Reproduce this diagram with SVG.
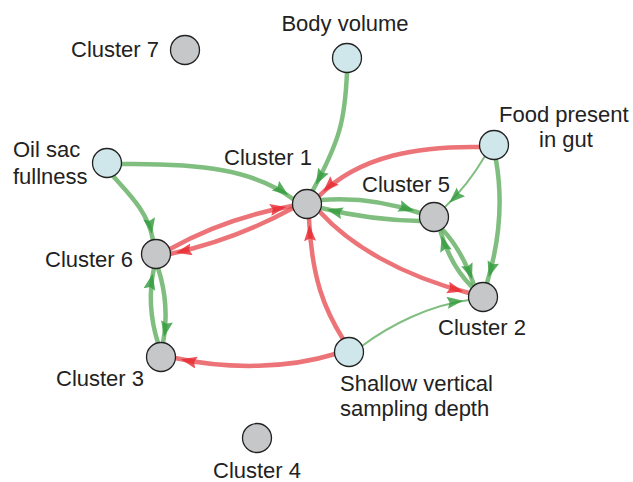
<svg xmlns="http://www.w3.org/2000/svg" width="633" height="482" viewBox="0 0 633 482">
<style>
text{font-family:"Liberation Sans",Arial,sans-serif;font-size:22px;fill:#222}
.g{fill:none;stroke:#55a855;stroke-opacity:0.75;stroke-width:4.5;stroke-linecap:round}
.gt{fill:none;stroke:#55a855;stroke-opacity:0.75;stroke-width:2;stroke-linecap:round}
.r{fill:none;stroke:#e5454b;stroke-opacity:0.75;stroke-width:4.5;stroke-linecap:round}
.g,.gt{marker-end:url(#ag)}
.r{marker-end:url(#ar)}
.c{fill:#c6c7c9;stroke:#222;stroke-width:1.3}
.v{fill:#cfe6ea;stroke:#222;stroke-width:1.3}
</style>
<defs>
<marker id="ag" markerUnits="userSpaceOnUse" markerWidth="17" markerHeight="13" refX="22" refY="6" orient="auto">
<path d="M0,0 L16,6 L0,12 L2.5,6 z" fill="#2f9a3a" fill-opacity="0.8"/>
</marker>
<marker id="ar" markerUnits="userSpaceOnUse" markerWidth="17" markerHeight="13" refX="22" refY="6" orient="auto">
<path d="M0,0 L16,6 L0,12 L2.5,6 z" fill="#e8262d" fill-opacity="0.8"/>
</marker>
</defs>
<g id="edges">
<path class="g" d="M347,72 C345,120 340,140 313,190"/>
<path class="g" d="M121,164 C200,163 255,170 293,199"/>
<path class="g" d="M113,176 C130,195 148,212 153,240"/>
<path class="r" d="M293,208 Q235,240 170,254"/>
<path class="r" d="M170,249 Q225,218 292,206"/>
<path class="g" d="M158,343 Q146,305 154,268"/>
<path class="g" d="M158,268 Q170,305 163,343"/>
<path class="r" d="M335,354 C290,368 230,370 175,358"/>
<path class="r" d="M343,339 C325,310 312,280 309,219"/>
<path class="gt" d="M362,346 C390,325 430,305 469,300"/>
<path class="r" d="M320,212 C350,245 400,275 469,293"/>
<path class="r" d="M480,147 C420,146 360,155 319,196"/>
<path class="gt" d="M485,156 Q468,185 445,207"/>
<path class="g" d="M496,160 C503,200 500,240 487,283"/>
<path class="g" d="M442,229 Q462,250 474,285"/>
<path class="g" d="M472,287 Q450,265 440,230"/>
<path class="g" d="M321,200 Q370,196 420,213"/>
<path class="g" d="M420,221 Q370,220 321,208"/>
</g>
<g id="cluster7"><circle class="c" cx="185" cy="50" r="14.5"/><text x="71" y="57">Cluster 7</text></g>
<g id="bodyvolume"><circle class="v" cx="347" cy="58" r="14.5"/><text x="345" y="31" text-anchor="middle">Body volume</text></g>
<g id="food"><circle class="v" cx="494" cy="145" r="14.5"/><text x="499" y="122">Food present</text><text x="539" y="147">in gut</text></g>
<g id="oilsac"><circle class="v" cx="107" cy="163" r="14.5"/><text x="13" y="157">Oil sac</text><text x="13" y="184">fullness</text></g>
<g id="cluster1"><circle class="c" cx="307" cy="204" r="14.5"/><text x="224" y="165">Cluster 1</text></g>
<g id="cluster5"><circle class="c" cx="434" cy="217" r="14.5"/><text x="362" y="192">Cluster 5</text></g>
<g id="cluster6"><circle class="c" cx="156" cy="254" r="14.5"/><text x="45" y="267">Cluster 6</text></g>
<g id="cluster2"><circle class="c" cx="483" cy="297" r="14.5"/><text x="438" y="335">Cluster 2</text></g>
<g id="shallow"><circle class="v" cx="349" cy="352" r="14.5"/><text x="340" y="391">Shallow vertical</text><text x="340" y="416">sampling depth</text></g>
<g id="cluster3"><circle class="c" cx="161" cy="357" r="14.5"/><text x="56" y="386">Cluster 3</text></g>
<g id="cluster4"><circle class="c" cx="257" cy="438" r="14.5"/><text x="213" y="478">Cluster 4</text></g>
</svg>
